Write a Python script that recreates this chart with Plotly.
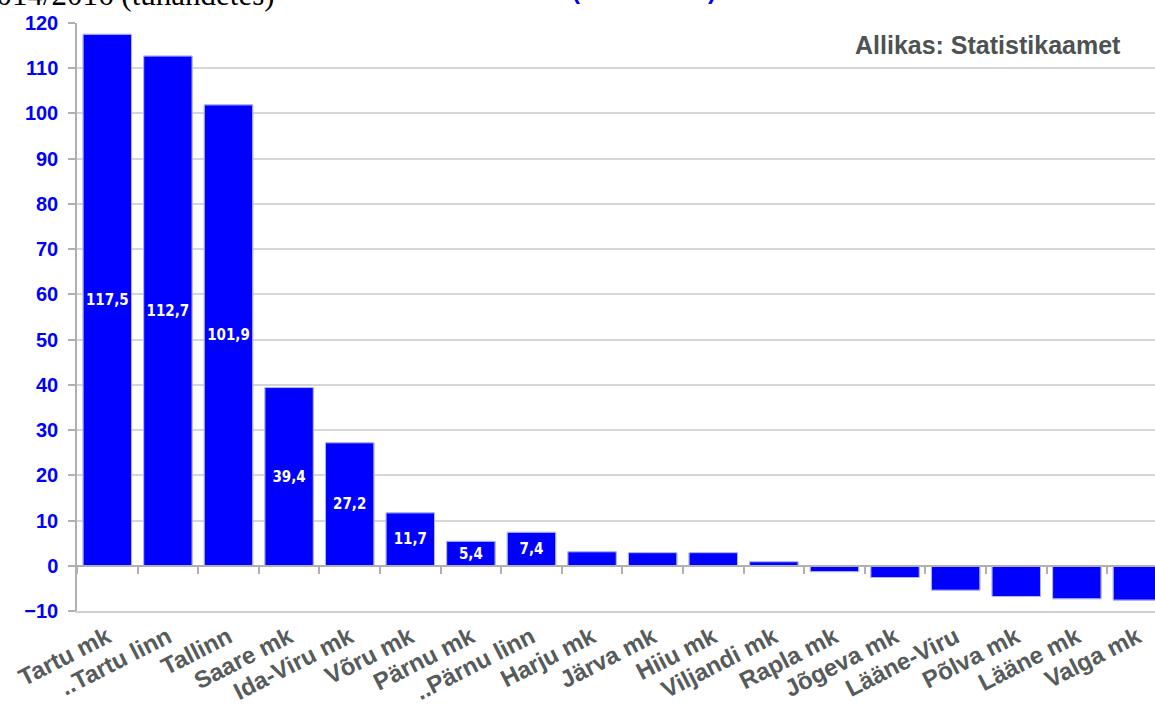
import plotly.graph_objects as go

categories = ["Tartu mk", "..Tartu linn", "Tallinn", "Saare mk", "Ida-Viru mk", "Võru mk",
              "Pärnu mk", "..Pärnu linn", "Harju mk", "Järva mk", "Hiiu mk", "Viljandi mk",
              "Rapla mk", "Jõgeva mk", "Lääne-Viru", "Põlva mk", "Lääne mk", "Valga mk"]
values = [117.5, 112.7, 101.9, 39.4, 27.2, 11.7, 5.4, 7.4, 3.1, 2.9, 2.9, 0.9,
          -1.3, -2.6, -5.4, -6.8, -7.3, -7.6]
n_labeled = 8
labels = [f"{v:.1f}".replace(".", ",") if i < n_labeled else "" for i, v in enumerate(values)]

y_ticks = list(range(-10, 121, 10))

W, H = 1155, 709
ML, MR, MT, MB = 77, 0, 23, 98
PW, PH = W - ML - MR, H - MT - MB

def px_x(px):
    return (px - ML) / PW

def px_y(py):
    return (H - MB - py) / PH

fig = go.Figure()
fig.add_trace(go.Bar(
    x=categories, y=values, text=labels,
    textposition="inside", insidetextanchor="middle", textangle=0,
    constraintext="none",
    textfont=dict(family="DejaVu Sans Condensed, DejaVu Sans", size=15, color="white", weight="bold"),
    marker=dict(color="#0000FF", line=dict(color="#8080ff", width=1)),
    width=0.8, hoverinfo="skip",
))
# invisible trace carrying the zero-line axis with boundary ticks
fig.add_trace(go.Bar(
    x=categories, y=values, xaxis="x2", yaxis="y",
    marker=dict(color="rgba(0,0,0,0)"), hoverinfo="skip", width=0.8,
))

fig.update_layout(
    width=W, height=H,
    margin=dict(l=ML, r=MR, t=MT, b=MB),
    plot_bgcolor="white", paper_bgcolor="white",
    showlegend=False, barmode="overlay",
    xaxis=dict(
        type="category", range=[-0.5, 17.29], tickangle=-27,
        tickfont=dict(family="Liberation Sans", size=24, color="#565b5b", weight="bold"),
        showline=True, linecolor="#d0d0d0", linewidth=1.5,
        ticks="", showgrid=False, automargin=False, ticklabelstandoff=1,
    ),
    xaxis2=dict(
        type="category", overlaying="x", matches="x", anchor="free",
        position=10 / 130, showline=True, linecolor="#b0b0b0", linewidth=1.5,
        ticks="outside", tickson="boundaries", ticklen=7, tickcolor="#b0b0b0",
        tickwidth=1.5, showticklabels=False, showgrid=False, automargin=False,
    ),
    yaxis=dict(
        range=[-10, 120], tickvals=y_ticks,
        tickfont=dict(family="Liberation Sans", size=20, color="#0000FF", weight="bold"),
        showgrid=True, gridcolor="#d6d6d6", gridwidth=1.5,
        showline=True, linecolor="#b0b0b0", linewidth=1.5,
        ticks="outside", ticklen=7, tickcolor="#b0b0b0", tickwidth=1.5,
        zeroline=False, automargin=False, ticklabelstandoff=6,
    ),
    annotations=[
        dict(text="Allikas: Statistikaamet", xref="paper", yref="paper",
             x=px_x(1123), y=px_y(45), xanchor="right", yanchor="middle",
             showarrow=False,
             font=dict(family="Liberation Sans", size=25, color="#4d5252", weight="bold")),
        dict(text="2014/2016 (tuhandetes)", xref="paper", yref="paper",
             x=px_x(277), y=px_y(-5), xanchor="right", yanchor="middle",
             showarrow=False,
             font=dict(family="Liberation Serif", size=31, color="black")),
        dict(text="Muutus (tuhandetes)", xref="paper", yref="paper",
             x=px_x(598), y=px_y(-10), xanchor="center", yanchor="middle",
             showarrow=False,
             font=dict(family="Liberation Sans", size=24, color="#0000FF", weight="bold")),
    ],
)

fig.write_html("out.html")
